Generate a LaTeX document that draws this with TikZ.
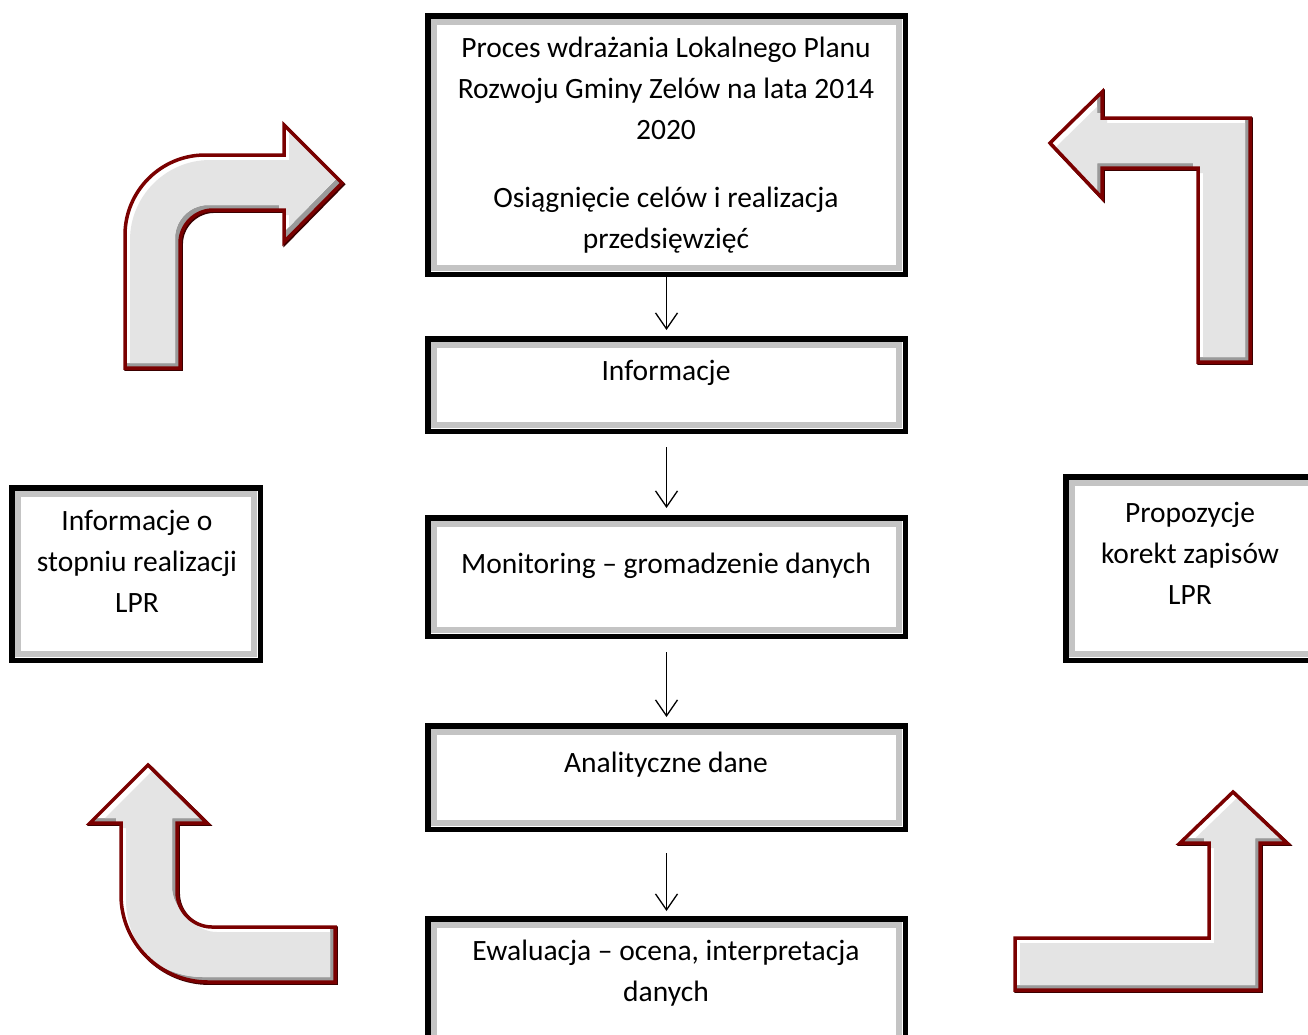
\documentclass[tikz,border=0pt]{standalone}
\usepackage{fontspec}
\setmainfont{Carlito}
\usetikzlibrary{arrows.meta}
\definecolor{arrowfill}{HTML}{E4E4E4}
\definecolor{arrowdark}{HTML}{9A9A9A}
\definecolor{arrowedge}{HTML}{7A0000}
\definecolor{arrowshadow}{HTML}{3A0000}
\definecolor{bandgray}{HTML}{C4C4C4}
\newcommand\bevelarrow[1]{%
  \draw[arrowshadow, line width=3.5pt, shift={(1.2,1.2)}] #1;
  \begin{scope}
    \clip #1;
    \fill[arrowdark] #1;
    \fill[white, shift={(-5,-5)}] #1;
    \begin{scope}
      \clip[shift={(-5,-5)}] #1;
      \fill[arrowfill, shift={(5,5)}] #1;
    \end{scope}
  \end{scope}
  \draw[arrowedge, line width=3.5pt] #1;}
\newcommand\lprbox[5]{%
  \pgfmathsetmacro\lprbw{#4-#2-5.5}%
  \pgfmathsetmacro\lprbh{#5-#3-5.5}%
  \pgfmathsetmacro\lprbx{(#2+#4)/2}%
  \pgfmathsetmacro\lprby{(#3+#5)/2}%
  \node[framebox, minimum width=\lprbw pt, minimum height=\lprbh pt] (#1) at (\lprbx,\lprby) {};
  \draw[bandline] ([shift={(5.8,5.8)}]#1.north west) rectangle ([shift={(-5.8,-5.8)}]#1.south east);}
\begin{document}
\begin{tikzpicture}[x=1pt,y=-1pt,
  framebox/.style={draw=black, line width=5.5pt, fill=white, rectangle, inner sep=0pt, outer sep=0pt},
  bandline/.style={draw=bandgray, line width=6pt},
  txt/.style={font=\fontsize{29.5}{41}\selectfont, align=center, inner sep=0pt, anchor=base},
  flow/.style={line width=1.3pt, -{Straight Barb[length=16pt,width=22pt]}}]
\useasboundingbox (0,0) rectangle (1308,1034);
\clip (0,0) rectangle (1308,1034);
\fill[white] (0,0) rectangle (1308,1034);

% boxes
\lprbox{top}{425}{13}{908}{277}
\lprbox{info}{425}{336}{908}{434}
\lprbox{mon}{425}{515}{908}{639}
\lprbox{ana}{425}{723}{908}{832}
\lprbox{ewa}{425}{916}{908}{1060}
\lprbox{left}{9}{485}{263}{663}
\lprbox{right}{1063}{474}{1330}{663}

% texts (base anchor = baseline of the last line)
\node[txt] (ttop) at (666,248) {Proces wdrażania Lokalnego Planu\\Rozwoju Gminy Zelów na lata 2014\\2020\\[27pt]Osiągnięcie celów i realizacja\\przedsięwzięć};
\node[txt] (tinfo) at (666,380) {Informacje};
\node[txt] (tmon) at (666,573) {Monitoring – gromadzenie danych};
\node[txt] (tana) at (666,772) {Analityczne dane};
\node[txt] (tewa) at (666,1001) {Ewaluacja – ocena, interpretacja\\danych};
\node[txt] (tleft) at (137,612) {Informacje o\\stopniu realizacji\\LPR};
\node[txt] (tright) at (1190,604) {Propozycje\\korekt zapisów\\LPR};

% connectors
\draw[flow, shorten <=2.75pt, shorten >=8.75pt] (top.south) -- (info.north);
\draw[flow, shorten <=15.75pt, shorten >=9.75pt] (info.south) -- (mon.north);
\draw[flow, shorten <=15.75pt, shorten >=8.75pt] (mon.south) -- (ana.north);
\draw[flow, shorten <=23.75pt, shorten >=7.75pt] (ana.south) -- (ewa.north);

% big bent arrows
\bevelarrow{(125,368) -- (125,235) .. controls (125,191) and (161,155) .. (205,155) -- (284,155) -- (284,125) -- (342,183) -- (284,242) -- (284,210) -- (213,210) .. controls (195,210) and (180,225) .. (180,243) -- (180,368) -- cycle}
\bevelarrow{(1198,362) -- (1250,362) -- (1250,118) -- (1102,118) -- (1102,92) -- (1050,143) -- (1102,198) -- (1102,168) -- (1198,168) -- cycle}
\bevelarrow{(121,823) -- (90,823) -- (148,765) -- (207,823) -- (177,823) -- (177,892) .. controls (177,911) and (193,927) .. (212,927) -- (335,927) -- (335,982) -- (208,982) .. controls (160,982) and (121,943) .. (121,895) -- cycle}
\bevelarrow{(1015,938) -- (1209,938) -- (1209,843) -- (1180,843) -- (1233,792) -- (1287,843) -- (1260,843) -- (1260,990) -- (1015,990) -- cycle}
\end{tikzpicture}
\end{document}
